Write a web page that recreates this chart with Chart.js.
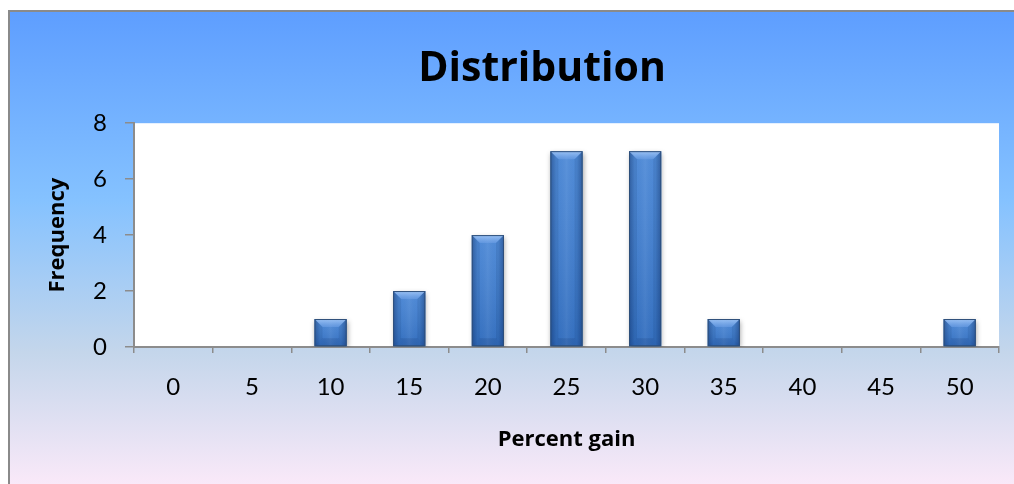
<!DOCTYPE html>
<html>
<head>
<meta charset="utf-8">
<script src="https://cdn.jsdelivr.net/npm/chart.js@4/dist/chart.umd.min.js"></script>
<style>
  html, body { margin: 0; padding: 0; width: 1014px; height: 484px; overflow: hidden; background: #ffffff; }
  #frame {
    position: absolute; left: 8px; top: 10px;
    width: 1006px; height: 474px; box-sizing: border-box; overflow: hidden;
    border-left: 2px solid #8a8a8a; border-top: 2px solid #8a8a8a;
    background: linear-gradient(to bottom, #5e9eff 0px, #85c2ff 189px, #c4d6eb 340px, #ffebfa 486px);
  }
  #chart { position: absolute; left: -2px; top: -2px; }
</style>
</head>
<body>
<div id="frame"><canvas id="chart" width="1068" height="474"></canvas></div>
<script>
// Histogram of percent gains
const categories = ['0', '5', '10', '15', '20', '25', '30', '35', '40', '45', '50'];
const frequency = [0, 0, 1, 2, 4, 7, 7, 1, 0, 0, 1];
const yTicks = [0, 2, 4, 6, 8];

const titleText = 'Distribution';
const xTitle = 'Percent gain';
const yTitle = 'Frequency';

const TICK_FONT = "Lato, 'Open Sans', 'Liberation Sans', sans-serif";
const BOLD_FONT = "'Open Sans', Lato, 'Liberation Sans', sans-serif";
const AXIS_GRAY = '#8c8c8c';

// White plot area behind the bars
const plotBackground = {
  id: 'plotBackground',
  beforeDraw(chart) {
    const { ctx, chartArea: a } = chart;
    ctx.save();
    ctx.fillStyle = '#ffffff';
    ctx.fillRect(a.left, a.top, a.right - a.left, a.bottom - a.top);
    ctx.restore();
  }
};

// Centre the chart title over the whole frame rather than the padded box
const frameTitle = {
  id: 'frameTitle',
  afterLayout(chart) {
    const t = chart.titleBlock;
    if (!t) return;
    const d = chart.width / 2 - (t.left + t.right) / 2;
    t.left += d;
    t.right += d;
  }
};

// Soft drop shadow under the bars plus a bevelled, shaded face on each bar
const bevelBars = {
  id: 'bevelBars',
  beforeDatasetsDraw(chart) {
    const ctx = chart.ctx;
    ctx.save();
    ctx.shadowColor = 'rgba(0,0,0,0.35)';
    ctx.shadowBlur = 5;
    ctx.shadowOffsetX = 1;
    ctx.shadowOffsetY = 2;
  },
  afterDatasetsDraw(chart) {
    const ctx = chart.ctx;
    ctx.restore();
    const meta = chart.getDatasetMeta(0);
    meta.data.forEach((bar) => {
      const p = bar.getProps(['x', 'y', 'base', 'width'], true);
      const h = p.base - p.y;
      if (h <= 0.5) return;
      const l = p.x - p.width / 2, r = p.x + p.width / 2, t = p.y, b = p.base;
      const bv = Math.min(8, h / 2.6, p.width / 2);
      ctx.save();
      ctx.beginPath();
      ctx.rect(l, t, r - l, b - t);
      ctx.clip();
      // vertical shading: lighter near the top, deeper toward the base
      const gv = ctx.createLinearGradient(0, t, 0, b);
      gv.addColorStop(0, 'rgba(255,255,255,0.10)');
      gv.addColorStop(1, 'rgba(0,20,70,0.15)');
      ctx.fillStyle = gv;
      ctx.fillRect(l, t, r - l, b - t);
      // horizontal shading: darker along both edges
      const gh = ctx.createLinearGradient(l, 0, r, 0);
      gh.addColorStop(0, 'rgba(0,20,70,0.30)');
      gh.addColorStop(0.18, 'rgba(0,20,70,0.0)');
      gh.addColorStop(0.5, 'rgba(255,255,255,0.06)');
      gh.addColorStop(0.82, 'rgba(0,20,70,0.0)');
      gh.addColorStop(1, 'rgba(0,20,70,0.30)');
      ctx.fillStyle = gh;
      ctx.fillRect(l, t, r - l, b - t);
      // top bevel
      const gt = ctx.createLinearGradient(0, t, 0, t + bv);
      gt.addColorStop(0, 'rgba(170,205,250,0.85)');
      gt.addColorStop(1, 'rgba(110,160,230,0.55)');
      ctx.fillStyle = gt;
      ctx.beginPath();
      ctx.moveTo(l, t); ctx.lineTo(r, t); ctx.lineTo(r - bv, t + bv); ctx.lineTo(l + bv, t + bv);
      ctx.closePath(); ctx.fill();
      // bottom bevel
      ctx.fillStyle = 'rgba(0,25,70,0.12)';
      ctx.beginPath();
      ctx.moveTo(l, b); ctx.lineTo(r, b); ctx.lineTo(r - bv, b - bv); ctx.lineTo(l + bv, b - bv);
      ctx.closePath(); ctx.fill();
      // side bevels
      ctx.fillStyle = 'rgba(0,25,70,0.10)';
      ctx.beginPath();
      ctx.moveTo(l, t); ctx.lineTo(l + bv, t + bv); ctx.lineTo(l + bv, b - bv); ctx.lineTo(l, b);
      ctx.closePath(); ctx.fill();
      ctx.beginPath();
      ctx.moveTo(r, t); ctx.lineTo(r - bv, t + bv); ctx.lineTo(r - bv, b - bv); ctx.lineTo(r, b);
      ctx.closePath(); ctx.fill();
      ctx.restore();
      // outline
      ctx.save();
      ctx.strokeStyle = '#2e4f7a';
      ctx.lineWidth = 1;
      ctx.strokeRect(l + 0.5, t + 0.5, r - l - 1, b - t - 1);
      ctx.restore();
    });
  }
};

new Chart(document.getElementById('chart'), {
  type: 'bar',
  data: {
    labels: categories,
    datasets: [{
      label: yTitle,
      data: frequency,
      backgroundColor: '#3d7fd4',
      borderWidth: 0,
      categoryPercentage: 1.0,
      barPercentage: 0.41
    }]
  },
  options: {
    responsive: false,
    animation: false,
    devicePixelRatio: 1,
    layout: { padding: { left: 34, right: 77, top: 0, bottom: 27 } },
    plugins: {
      legend: { display: false },
      tooltip: { enabled: false },
      title: {
        display: true,
        text: titleText,
        color: '#000000',
        font: { family: BOLD_FONT, size: 41, weight: 'bold' },
        padding: { top: 35, bottom: 29 }
      }
    },
    scales: {
      x: {
        grid: {
          display: true, offset: true, drawOnChartArea: false, drawTicks: true,
          tickLength: 6, color: AXIS_GRAY, lineWidth: 1.5
        },
        border: { display: true, color: AXIS_GRAY, width: 2 },
        ticks: {
          color: '#000000', padding: 20, maxRotation: 0, autoSkip: false,
          font: { family: TICK_FONT, size: 24 }
        },
        title: {
          display: true, text: xTitle, color: '#000000',
          font: { family: BOLD_FONT, size: 22, weight: 'bold' },
          padding: { top: 4, bottom: 4 }
        },
        afterFit(scale) { scale.height = 110; }
      },
      y: {
        min: 0, max: 8,
        afterBuildTicks(scale) { scale.ticks = yTicks.map(v => ({ value: v })); },
        grid: {
          display: true, drawOnChartArea: false, drawTicks: true,
          tickLength: 9, color: AXIS_GRAY, lineWidth: 1.5
        },
        border: { display: true, color: AXIS_GRAY, width: 2 },
        ticks: {
          color: '#000000', padding: 18,
          font: { family: TICK_FONT, size: 24 }
        },
        title: {
          display: true, text: yTitle, color: '#000000',
          font: { family: BOLD_FONT, size: 22, weight: 'bold' },
          padding: { top: 3, bottom: 4 }
        },
        afterFit(scale) { scale.width = 92; }
      }
    }
  },
  plugins: [plotBackground, frameTitle, bevelBars]
});
</script>
</body>
</html>
